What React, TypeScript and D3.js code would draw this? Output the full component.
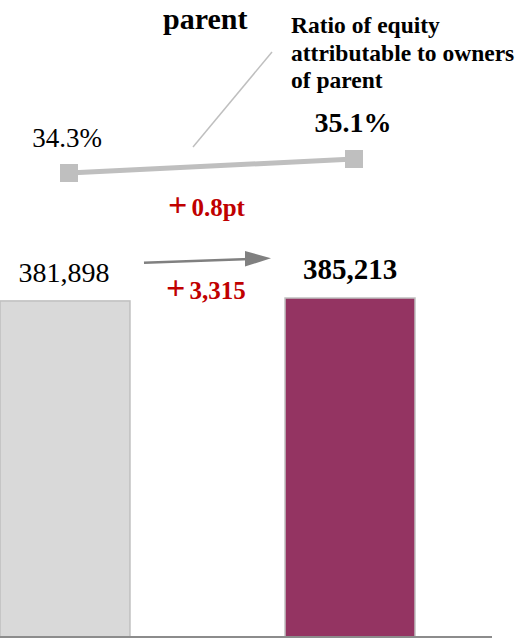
import React from 'react';
import { scaleBand, scaleLinear, scalePoint, line, format } from 'd3';

const width = 518;
const height = 641;
const baseY = 637;

// data
const periods = ['prev', 'curr'];
const equity = [381898, 385213];
const ratio = [34.3, 35.1];
const equityDiff = '+3,315';
const ratioDiff = '+0.8pt';
const barColors = ['#d9d9d9', '#943462'];

const serif = { fontFamily: 'Liberation Serif, Times New Roman, serif' };

const xBar = scaleBand<string>()
  .domain(periods)
  .range([0, 415])
  .paddingInner(0.544)
  .paddingOuter(0);

const yBar = scaleLinear().domain([0, 450000]).range([baseY, baseY - 396]);

const xLine = scalePoint<string>().domain(periods).range([69, 354]);
const yLine = scaleLinear().domain([30, 40]).range([248.25, 73.25]);

const lineGen = line<number>()
  .x((_, i) => xLine(periods[i]) as number)
  .y(d => yLine(d));

const fmt = format(',');
const marker = 18;

const App = () => (
  <svg
    width={width}
    height={height}
    style={{ position: 'absolute', left: 0, top: 0, background: '#fff' }}
  >
    {/* bars */}
    {equity.map((v, i) => (
      <rect
        key={periods[i]}
        x={xBar(periods[i])}
        y={yBar(v)}
        width={xBar.bandwidth()}
        height={baseY - yBar(v)}
        fill={barColors[i]}
        stroke="#bfbfbf"
        strokeWidth={1.5}
      />
    ))}
    <line x1={0} x2={492} y1={baseY} y2={baseY} stroke="#8c8c8c" strokeWidth={2} />

    {/* bar labels */}
    <text style={serif} x={64} y={282} textAnchor="middle" fontSize={28}>{fmt(equity[0])}</text>
    <text style={serif} x={350} y={279} textAnchor="middle" fontSize={29} fontWeight="bold">{fmt(equity[1])}</text>

    {/* arrow + diff */}
    <line x1={144} y1={262.7} x2={250} y2={259} stroke="#808080" strokeWidth={2.5} />
    <path d="M245,251 L271,258.3 L245,266.5 Z" fill="#808080" />
    <text style={serif} x={166} y={299} fontSize={25} fontWeight="bold" fill="#c00000">
      <tspan fontSize={34}>{equityDiff[0]}</tspan>
      <tspan dx={4}>{equityDiff.slice(1)}</tspan>
    </text>

    {/* ratio line */}
    <path d={lineGen(ratio) as string} fill="none" stroke="#bfbfbf" strokeWidth={5} />
    {ratio.map((v, i) => (
      <rect
        key={periods[i]}
        x={(xLine(periods[i]) as number) - marker / 2}
        y={yLine(v) - marker / 2}
        width={marker}
        height={marker}
        fill="#bfbfbf"
      />
    ))}
    <text style={serif} x={67} y={147} textAnchor="middle" fontSize={27}>{ratio[0].toFixed(1)}%</text>
    <text style={serif} x={353} y={132} textAnchor="middle" fontSize={28} fontWeight="bold">{ratio[1].toFixed(1)}%</text>
    <text style={serif} x={168} y={216} fontSize={25} fontWeight="bold" fill="#c00000">
      <tspan fontSize={34}>{ratioDiff[0]}</tspan>
      <tspan dx={4}>{ratioDiff.slice(1)}</tspan>
    </text>

    {/* titles */}
    <text style={serif} x={163} y={29} fontSize={30} fontWeight="bold">parent</text>
    <line x1={272} y1={52} x2={193} y2={147} stroke="#bfbfbf" strokeWidth={1.5} />
    <text style={serif} fontSize={23.5} fontWeight="bold">
      <tspan x={291} y={33}>Ratio of equity</tspan>
      <tspan x={291} y={61}>attributable to owners</tspan>
      <tspan x={291} y={88}>of parent</tspan>
    </text>
  </svg>
);

export default App;
